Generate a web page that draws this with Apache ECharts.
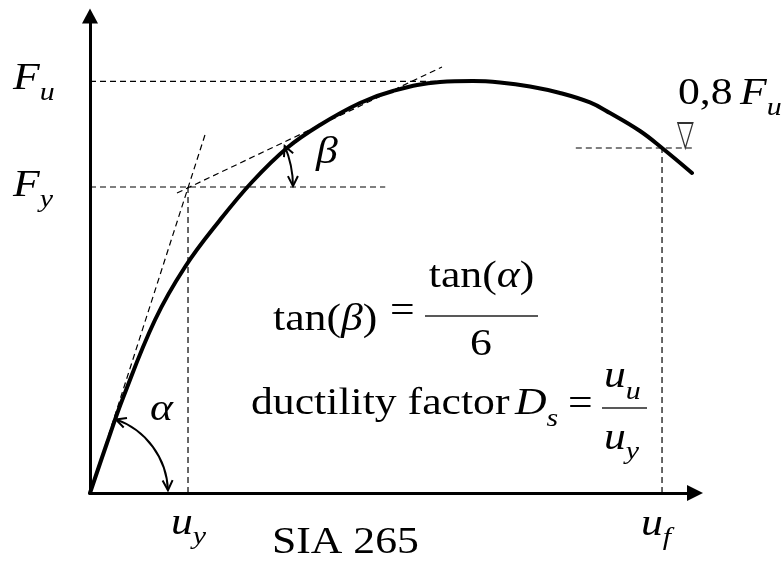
<!DOCTYPE html>
<html>
<head>
<meta charset="utf-8">
<script src="https://cdn.jsdelivr.net/npm/echarts@6/dist/echarts.min.js"></script>
<style>
  html, body { margin: 0; padding: 0; background: #fff; }
  #chart { width: 783px; height: 566px; }
</style>
</head>
<body>
<div id="chart"></div>
<script>
// Force–displacement envelope (arbitrary units: u along x, F along y)
const curveU = [0, 2.81, 5.45, 10.74, 15.70, 21.49, 26.78, 32.56, 38.02, 44.63, 50.08, 57.85, 63.31, 67.77, 72.73, 77.69, 82.64, 85.95, 90.91, 94.55, 99.50];
const curveF = [0, 10.48, 19.92, 36.27, 47.38, 57.23, 65.20, 72.33, 77.15, 81.76, 84.28, 86.16, 86.37, 86.06, 85.22, 83.86, 81.87, 79.66, 75.89, 72.33, 67.09];

// Characteristic values
const uY = 16.2;     // yield displacement
const fY = 64.15;    // yield force
const fU = 86.3;     // ultimate force
const uF = 94.55;    // failure displacement
const fFail = 72.33; // force level at failure (0,8 F_u)

// Construction lines, as [u, F] end points
const guideFu = [[0, fU], [63.3, fU]];
const guideFy = [[0, fY], [48.8, fY]];
const guideUy = [[uY, 0], [uY, fY]];
const guideUf = [[uF, 0], [uF, fFail]];
const guideFail = [[80.3, fFail], [99.7, fFail]];
const tangentAlpha = [[0, 0], [19.0, 75.05]];
const tangentBeta = [[14.38, 62.89], [58.18, 89.31]];
const failMarker = [[98.4, fFail]];

// Angle arcs: centre point in data units
const angleCentres = [[0, 0], [uY, fY]];

const chart = echarts.init(document.getElementById('chart'), null, { renderer: 'canvas' });

const curveData = curveU.map((u, i) => [u, curveF[i]]);

function dashed(data) {
  return {
    type: 'line', data: data, symbol: 'none', silent: true, z: 2,
    lineStyle: { color: '#000', width: 1.2, type: [6, 4] }
  };
}

// Arc geometry (screen angles in degrees, radius in px) for each angle centre
const arcSpecs = [
  { r: 78, from: -70.6, to: -2 },
  { r: 105, from: -23, to: -0.5 }
];

function chevron(px, py, dx, dy) {
  const L = 10, W = 5;
  const nx = -dy, ny = dx;
  return {
    type: 'polyline',
    shape: { points: [[px - L * dx + W * nx, py - L * dy + W * ny], [px, py], [px - L * dx - W * nx, py - L * dy - W * ny]] },
    style: { stroke: '#000', lineWidth: 2, fill: null }
  };
}

function renderArc(params, api) {
  const c = api.coord([api.value(0), api.value(1)]);
  const s = arcSpecs[params.dataIndex];
  const a0 = s.from * Math.PI / 180, a1 = s.to * Math.PI / 180;
  const p0 = [c[0] + s.r * Math.cos(a0), c[1] + s.r * Math.sin(a0)];
  const p1 = [c[0] + s.r * Math.cos(a1), c[1] + s.r * Math.sin(a1)];
  return {
    type: 'group',
    children: [
      {
        type: 'arc',
        shape: { cx: c[0], cy: c[1], r: s.r, startAngle: a0, endAngle: a1, clockwise: true },
        style: { stroke: '#000', lineWidth: 2, fill: null }
      },
      chevron(p0[0], p0[1], Math.sin(a0), -Math.cos(a0)),
      chevron(p1[0], p1[1], -Math.sin(a1), Math.cos(a1))
    ]
  };
}

// ---- text helpers ----
const SX = 1.15;
const FAMILY = '"Liberation Serif", "Times New Roman", serif';
const measureCtx = document.createElement('canvas').getContext('2d');
function fontOf(size, italic) { return (italic ? 'italic ' : '') + size + 'px ' + FAMILY; }
function widthOf(s, size, italic) { measureCtx.font = fontOf(size, italic); return measureCtx.measureText(s).width * SX; }
function piece(s, x, base, size, italic) {
  return {
    type: 'text', x: x, y: base - 0.3375 * size, scaleX: SX, silent: true, z: 10,
    style: { text: s, x: 0, y: 0, font: fontOf(size, italic), fill: '#000', align: 'left', verticalAlign: 'middle' }
  };
}
// segs: [text, size, italic, baselineShift]
function run(x, base, segs) {
  const out = [];
  segs.forEach(([s, size, it, dy]) => {
    out.push(piece(s, x, base + (dy || 0), size, it));
    x += widthOf(s, size, it);
  });
  return out;
}
function runWidth(segs) { return segs.reduce((w, [s, size, it]) => w + widthOf(s, size, it), 0); }
function centredRun(cx, base, segs) { return run(cx - runWidth(segs) / 2, base, segs); }
function bar(x1, x2, y) {
  return { type: 'line', silent: true, z: 10, shape: { x1: x1, y1: y, x2: x2, y2: y }, style: { stroke: '#222', lineWidth: 1.3 } };
}

const M = 38, S = 26;
const texts = [].concat(
  run(13, 92, [['F', M, true], ['u', S, true, 10]]),
  run(13, 199, [['F', M, true], ['y', S, true, 10]]),
  run(678, 107, [['0,8', M, false]]),
  run(740, 107, [['F', M, true], ['u', S, true, 10]]),
  [piece('β', 316, 166, M, true)],
  [piece('α', 150, 423, M, true)],
  run(171, 537, [['u', M, true], ['y', S, true, 9]]),
  run(641, 538, [['u', M, true], ['f', S, true, 9]]),
  [piece('SIA 265', 272, 556, M, false)],
  // tan(β) = tan(α) / 6
  run(273, 333, [['tan(', M, false], ['β', M, true], [')', M, false]]),
  [piece('=', 390, 324.5, M, false)],
  [bar(425, 538, 316)],
  centredRun(481.5, 290, [['tan(', M, false], ['α', M, true], [')', M, false]]),
  centredRun(481, 358, [['6', M, false]]),
  // ductility factor D_s = u_u / u_y
  run(251, 417, [['ductility factor', M, false]]),
  run(515, 417, [['D', M, true], ['s', S, true, 11]]),
  [piece('=', 568, 417.5, M, false)],
  [bar(602, 647, 408)],
  run(604, 390, [['u', M, true], ['u', S, true, 11]]),
  run(604, 452, [['u', M, true], ['y', S, true, 9]])
);

const axisCommon = {
  type: 'value', min: 0, max: 100,
  splitLine: { show: false }, axisTick: { show: false }, axisLabel: { show: false }
};

chart.setOption({
  animation: false,
  backgroundColor: '#fff',
  grid: { left: 90, right: 88, top: 16, bottom: 73 },
  xAxis: Object.assign({}, axisCommon, {
    axisLine: { show: true, onZero: true, symbol: ['none', 'triangle'], symbolSize: [16, 16], lineStyle: { color: '#000', width: 3 } }
  }),
  yAxis: Object.assign({}, axisCommon, {
    axisLine: { show: true, onZero: true, symbol: ['none', 'triangle'], symbolSize: [16, 15], lineStyle: { color: '#000', width: 3 } }
  }),
  series: [
    dashed(guideFu),
    dashed(guideFy),
    dashed(guideUy),
    dashed(guideUf),
    dashed(guideFail),
    dashed(tangentAlpha),
    dashed(tangentBeta),
    {
      type: 'line', data: curveData, smooth: 0.4, symbol: 'none', silent: true, z: 5,
      lineStyle: { color: '#000', width: 4, cap: 'round' }
    },
    {
      type: 'scatter', data: failMarker, silent: true, z: 6,
      symbol: 'path://M0,0L2,0L1,3Z', symbolSize: [15, 25], symbolOffset: [0, -12.5],
      itemStyle: { color: '#fff', borderColor: '#000', borderWidth: 1.5 }
    },
    {
      type: 'custom', coordinateSystem: 'cartesian2d', data: angleCentres, silent: true, z: 6,
      renderItem: renderArc, clip: false
    }
  ],
  graphic: texts
});
</script>
</body>
</html>
